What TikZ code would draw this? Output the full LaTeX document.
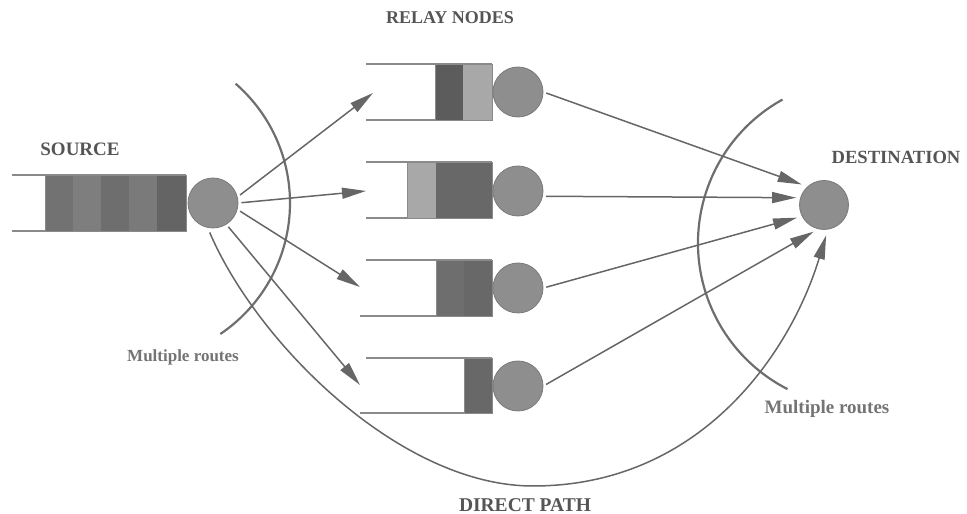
\documentclass[tikz,border=0pt]{standalone}
\usepackage{fontspec}
\setmainfont{Liberation Serif}
\usetikzlibrary{arrows.meta}
\definecolor{circfill}{HTML}{8E8E8E}
\definecolor{circline}{HTML}{7A7A7A}
\definecolor{qline}{HTML}{8A8A8A}
\definecolor{linecol}{HTML}{666666}
\definecolor{arccol}{HTML}{6E6E6E}
\definecolor{txtdark}{HTML}{555555}
\definecolor{txtlight}{HTML}{747474}
\definecolor{sA}{HTML}{727272}
\definecolor{sB}{HTML}{7E7E7E}
\definecolor{sC}{HTML}{6E6E6E}
\definecolor{sD}{HTML}{7A7A7A}
\definecolor{sE}{HTML}{646464}
\definecolor{dk}{HTML}{5C5C5C}
\definecolor{lt}{HTML}{A8A8A8}
\definecolor{md}{HTML}{686868}
\begin{document}
\begin{tikzpicture}[x=1pt,y=1pt,
  station/.style={circle,draw=circline,line width=0.8pt,fill=circfill,minimum size=50pt,inner sep=0pt},
  qedge/.style={draw=qline,line width=1.4pt},
  cell/.style={draw=qline,line width=0.8pt},
  arrowline/.style={draw=linecol,line width=1.5pt,-{Triangle[length=24pt,width=11pt]},shorten <=3pt},
  arcline/.style={draw=arccol,line width=2.2pt},
  caplabel/.style={text=txtdark,inner sep=0pt,font=\fontsize{18}{20}\selectfont\bfseries},
  mrlabel/.style={text=txtlight,inner sep=0pt,font=\fontsize{17}{19}\selectfont\bfseries}]
\useasboundingbox (0,0) rectangle (967,514);

% ---------- source queue ----------
\draw[qedge] (12,339) -- (186,339);
\draw[qedge] (12,283) -- (186,283);
\fill[sA] (45,283) rectangle (73,339);
\fill[sB] (73,283) rectangle (101,339);
\fill[sC] (101,283) rectangle (129,339);
\fill[sD] (129,283) rectangle (157,339);
\fill[sE] (157,283) rectangle (186,339);
\draw[cell] (45,283) rectangle (186,339);
\node[station] (src) at (213,311) {};

% ---------- relay queues ----------
% relay 1
\draw[qedge] (366,450) -- (492,450);
\draw[qedge] (366,394) -- (492,394);
\fill[dk] (435,394) rectangle (463,450);
\fill[lt] (463,394) rectangle (492,450);
\draw[cell] (435,394) rectangle (492,450);
\node[station] (rel1) at (518,422) {};
% relay 2
\draw[qedge] (366,352) -- (492,352);
\draw[qedge] (366,296) -- (492,296);
\fill[lt] (407,296) rectangle (436,352);
\fill[md] (436,296) rectangle (492,352);
\draw[cell] (407,296) rectangle (492,352);
\node[station] (rel2) at (518,323) {};
% relay 3
\draw[qedge] (366,254) -- (492,254);
\draw[qedge] (360,198) -- (492,198);
\fill[sC] (436,198) rectangle (464,254);
\fill[md] (464,198) rectangle (492,254);
\draw[cell] (436,198) rectangle (492,254);
\node[station] (rel3) at (518,226) {};
% relay 4
\draw[qedge] (366,156) -- (492,156);
\draw[qedge] (360,101) -- (492,101);
\fill[md] (464,101) rectangle (492,156);
\draw[cell] (464,101) rectangle (492,156);
\node[station] (rel4) at (518,128) {};

% ---------- destination ----------
\node[station,minimum size=49pt] (dst) at (824,309) {};

% ---------- arrow targets in front of relay queues ----------
\coordinate (t1) at (373,421);
\coordinate (t2) at (366,323);
\coordinate (t3) at (360,227);
\coordinate (t4) at (360,129);

% ---------- multiple-route arcs ----------
\draw[arcline] (132,311) ++(-56:158) arc[start angle=-56,end angle=49,radius=158];
\draw[arcline] (862,271) ++(119:164) arc[start angle=119,end angle=243,radius=164];

% ---------- source to relays ----------
\draw[arrowline] (src.14) -- (t1);
\draw[arrowline] (src.0) -- (t2);
\draw[arrowline] (src.-15) -- (t3);
\draw[arrowline] (src.-58) -- (t4);

% ---------- relays to destination ----------
\draw[arrowline,shorten >=6pt] (rel1.0) -- (dst.132);
\draw[arrowline,shorten >=4pt] (rel2.-12) -- (dst.163);
\draw[arrowline,shorten >=5pt] (rel3.0) -- (dst.207);
\draw[arrowline,shorten >=5pt] (rel4.0) -- (dst.256);

% ---------- direct path ----------
\draw[arrowline,shorten <=5pt,shorten >=6pt]
  (src.258) .. controls (257,171) and (400,28) .. (533,28)
  .. controls (700,28) and (790,160) .. (dst.279);

% ---------- labels ----------
\node[caplabel,font=\fontsize{19}{21}\selectfont\bfseries] (lsrc) at (80,365) {SOURCE};
\node[caplabel] (lrel) at (450,496) {RELAY NODES};
\node[caplabel,font=\fontsize{18.6}{21}\selectfont\bfseries] (ldst) at (896,357) {DESTINATION};
\node[mrlabel] (lmr1) at (183,157) {Multiple routes};
\node[mrlabel,font=\fontsize{19}{21}\selectfont\bfseries] (lmr2) at (827,105) {Multiple routes};
\node[caplabel,font=\fontsize{19.5}{21}\selectfont\bfseries] (ldp) at (525,9) {DIRECT PATH};
\end{tikzpicture}
\end{document}
